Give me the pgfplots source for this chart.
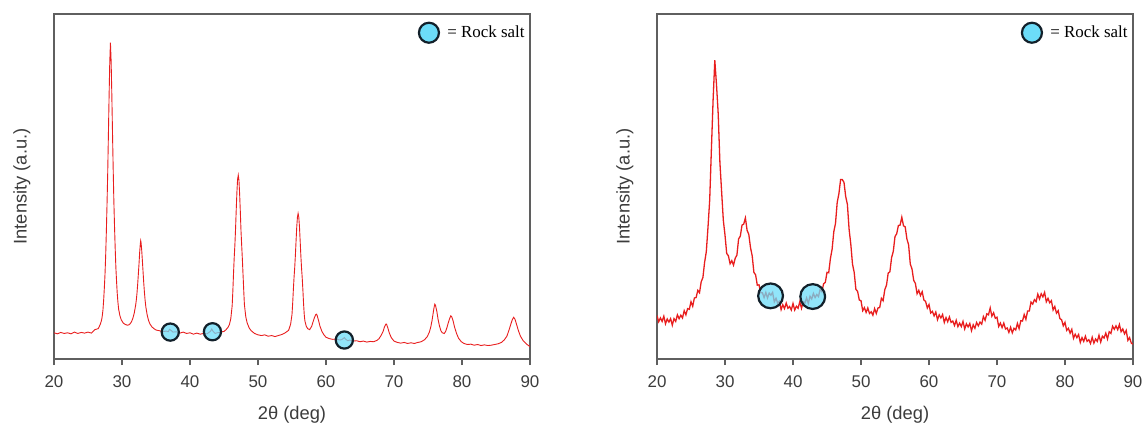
\documentclass[border=0pt]{standalone}
\usepackage{pgfplots}
\pgfplotsset{compat=1.18}
\usepackage{fontspec}
\setmainfont{Liberation Sans}
\newfontfamily\legendfont{Liberation Serif}

\definecolor{xrdred}{RGB}{232,30,30}
\definecolor{rsfill}{RGB}{108,220,248}
\definecolor{rsdraw}{RGB}{18,32,42}
\definecolor{axgray}{RGB}{95,95,95}
\definecolor{txtgray}{RGB}{60,60,60}

\pgfplotsset{
  xrd/.style={
    scale only axis, width=238bp, height=172.5bp,
    xmin=20, xmax=90, ymin=0, ymax=100,
    xtick={20,30,...,90}, ytick=\empty,
    tick align=outside, xtick pos=left,
    major tick length=3bp,
    axis line style={axgray, line width=0.6bp},
    every tick/.style={axgray, line width=0.6bp},
    /pgf/number format/assume math mode=true,
    ticklabel style={font=\fontsize{8.5}{10}\selectfont, text=txtgray},
    xticklabel style={yshift=-2bp},
    xlabel={2θ (deg)}, ylabel={Intensity (a.u.)},
    label style={font=\fontsize{9.2}{11}\selectfont, text=txtgray},
    xlabel style={at={(axis description cs:0.5,0)}, anchor=center, yshift=-28bp},
    ylabel style={at={(axis description cs:0,0.5)}, anchor=center, yshift=16bp},
    legend style={draw=none, fill=none, at={(axis description cs:1,1)},
      anchor=north east, xshift=2.5bp, yshift=-1.5bp,
      font=\legendfont\fontsize{8.5}{10}\selectfont},
    legend image code/.code={\draw[rsdraw, fill=rsfill, line width=1.1bp] (5bp,0) circle (5bp);
      \path (12bp,0);},
  },
  pattern line/.style={xrdred, line width=0.45bp, forget plot},
  rocksalt/.style={only marks, mark=*, mark options={draw=rsdraw, fill=rsfill, fill opacity=0.75, line width=1.1bp}},
}

\begin{document}
\begin{tikzpicture}
\useasboundingbox (0,0) rectangle (572bp,212bp);

% left: sharp pattern
\begin{axis}[xrd, at={(27bp,32.5bp)}, anchor=south west]
\addplot[pattern line] coordinates {
(20.0,7.6) (20.5,7.3) (21.0,7.7) (21.5,7.4) (22.0,7.6) (22.5,7.3) (23.0,7.8) (23.5,7.4)
(24.0,7.7) (24.5,7.5) (25.0,7.8) (25.5,7.5) (26.0,8.5) (26.5,8.8) (26.8,10.0) (27.0,11.3)
(27.1,12.5) (27.2,14.2) (27.3,17.0) (27.4,20.5) (27.5,24.5) (27.6,30.0) (27.7,37.0) (27.8,45.0)
(27.9,54.0) (28.0,65.0) (28.1,76.0) (28.2,86.0) (28.3,91.7) (28.4,86.5) (28.5,77.0) (28.6,66.0)
(28.7,55.5) (28.8,46.0) (28.9,38.5) (29.0,32.0) (29.1,26.5) (29.2,22.5) (29.3,19.0) (29.4,16.5)
(29.5,14.5) (29.7,12.5) (29.9,11.3) (30.2,10.4) (30.5,10.0) (30.8,9.8) (31.0,9.9) (31.2,10.2)
(31.4,10.8) (31.6,11.8) (31.8,13.3) (32.0,15.5) (32.1,17.0) (32.2,19.0) (32.3,21.5) (32.4,24.5)
(32.5,27.5) (32.6,31.0) (32.7,33.5) (32.75,34.3) (32.8,33.8) (32.9,31.5) (33.0,28.4) (33.1,25.2)
(33.2,22.0) (33.3,19.3) (33.4,17.0) (33.5,15.2) (33.7,12.8) (33.9,11.2) (34.1,10.2) (34.4,9.3)
(34.7,8.8) (35.0,8.4) (35.5,8.2) (36.0,7.9) (36.5,8.1) (36.8,7.9) (37.0,8.6) (37.2,8.3)
(37.5,7.8) (38.0,7.9) (38.5,7.5) (39.0,7.8) (39.5,7.4) (40.0,7.6) (40.5,7.2) (41.0,7.5)
(41.5,7.2) (42.0,7.4) (42.5,7.3) (43.0,8.0) (43.2,8.7) (43.4,8.0) (43.7,7.4) (44.0,7.6)
(44.5,7.8) (45.0,8.0) (45.3,8.5) (45.6,9.2) (45.8,10.0) (46.0,11.7) (46.2,15.4) (46.3,19.6)
(46.4,24.7) (46.5,29.3) (46.6,33.0) (46.7,37.7) (46.8,43.3) (46.9,48.4) (47.0,52.1) (47.1,53.3)
(47.2,51.8) (47.3,47.8) (47.4,42.8) (47.5,37.2) (47.6,33.0) (47.7,29.0) (47.8,24.5) (47.9,20.0)
(48.0,15.8) (48.2,12.3) (48.4,10.5) (48.7,9.0) (49.0,8.2) (49.5,7.4) (50.0,7.0) (50.5,6.8)
(51.0,7.0) (51.5,6.6) (52.0,6.8) (52.5,6.5) (53.0,6.8) (53.5,7.1) (54.0,7.6) (54.5,8.3)
(54.8,10.1) (55.0,12.9) (55.1,16.1) (55.2,20.1) (55.3,23.6) (55.4,26.5) (55.5,30.1) (55.6,34.3)
(55.7,38.3) (55.8,41.1) (55.9,42.2) (56.0,41.1) (56.1,38.3) (56.2,34.3) (56.3,30.1) (56.4,26.5)
(56.5,23.6) (56.6,20.1) (56.7,16.1) (56.8,12.9) (56.9,11.0) (57.1,9.5) (57.3,8.8) (57.6,8.5)
(57.9,9.5) (58.1,10.8) (58.3,12.0) (58.5,12.9) (58.6,13.0) (58.7,12.6) (58.9,11.2) (59.1,9.6)
(59.4,8.0) (59.7,7.0) (60.0,6.3) (60.5,5.9) (61.0,5.7) (61.5,5.8) (62.0,5.5) (62.3,5.6)
(62.5,5.9) (62.7,6.2) (62.9,5.7) (63.2,5.3) (63.5,5.5) (64.0,5.2) (64.5,5.3) (65.0,5.0)
(65.5,5.2) (66.0,4.9) (66.5,5.1) (67.0,5.0) (67.5,5.4) (67.8,5.9) (68.1,6.8) (68.4,8.0)
(68.6,9.3) (68.8,10.1) (68.9,10.1) (69.1,9.0) (69.3,7.6) (69.6,6.2) (70.0,5.2) (70.5,4.8)
(71.0,4.6) (71.5,4.8) (72.0,4.5) (72.5,4.7) (73.0,4.5) (73.5,4.8) (74.0,5.0) (74.5,5.6)
(74.9,6.5) (75.2,7.8) (75.4,9.2) (75.6,11.2) (75.8,13.8) (75.9,15.0) (76.0,15.9) (76.1,15.6)
(76.3,13.8) (76.5,11.3) (76.7,9.5) (76.9,8.2) (77.1,7.6) (77.4,7.4) (77.6,8.0) (77.8,9.2)
(78.0,10.6) (78.2,11.8) (78.35,12.5) (78.5,12.2) (78.7,11.0) (78.9,9.3) (79.2,7.4) (79.5,6.0)
(79.9,5.0) (80.3,4.5) (80.8,4.2) (81.3,4.3) (81.8,4.0) (82.3,4.2) (82.8,3.9) (83.3,4.1)
(83.8,3.9) (84.3,4.0) (84.8,4.2) (85.3,4.4) (85.8,4.8) (86.2,5.5) (86.6,6.6) (86.9,8.3)
(87.2,10.2) (87.4,11.4) (87.6,12.1) (87.8,11.5) (88.0,10.2) (88.3,8.2) (88.6,6.6) (89.0,5.3)
(89.5,4.3) (90.0,3.6)
};
\addplot[rocksalt, mark size=4.3bp] coordinates {(37.1,7.8) (43.3,7.9) (62.7,5.5)};
\legend{= Rock salt}
\end{axis}

% right: broad pattern
\begin{axis}[xrd, at={(328.5bp,32.5bp)}, anchor=south west]
\addplot[pattern line, line width=0.65bp] coordinates {
(20.00,12.6) (20.25,10.8) (20.50,11.9) (20.75,10.9) (21.00,12.4) (21.25,10.2) (21.50,11.6) (21.75,10.7)
(22.00,11.7) (22.25,9.8) (22.50,11.7) (22.75,10.9) (23.00,12.8) (23.25,11.7) (23.50,12.7) (23.75,11.9)
(24.00,14.0) (24.25,12.8) (24.50,14.6) (24.75,14.4) (25.00,16.6) (25.25,15.3) (25.50,17.7) (25.75,17.8)
(26.00,19.9) (26.25,19.2) (26.50,22.4) (26.75,23.6) (27.00,28.0) (27.25,31.1) (27.50,38.2) (27.75,46.1)
(28.00,60.8) (28.25,75.1) (28.50,86.6) (28.75,79.5) (29.00,71.1) (29.25,57.0) (29.50,48.6) (29.75,40.3)
(30.00,35.9) (30.25,30.6) (30.50,29.9) (30.75,27.6) (31.00,28.5) (31.25,27.2) (31.50,29.2) (31.75,30.1)
(32.00,34.8) (32.25,35.6) (32.50,38.8) (32.75,39.1) (33.00,40.9) (33.25,37.3) (33.50,36.1) (33.75,32.3)
(34.00,29.9) (34.25,25.1) (34.50,24.4) (34.75,21.4) (35.00,21.5) (35.25,19.2) (35.50,19.2) (35.75,17.8)
(36.00,19.3) (36.25,17.7) (36.50,19.1) (36.75,18.5) (37.00,19.3) (37.25,16.6) (37.50,17.6) (37.75,16.2)
(38.00,16.7) (38.25,14.3) (38.50,15.7) (38.75,14.6) (39.00,16.2) (39.25,14.7) (39.50,15.2) (39.75,14.2)
(40.00,16.1) (40.25,14.2) (40.50,15.3) (40.75,14.7) (41.00,16.6) (41.25,14.7) (41.50,16.6) (41.75,16.2)
(42.00,17.7) (42.25,16.1) (42.50,18.2) (42.75,17.4) (43.00,19.0) (43.25,17.8) (43.50,18.7) (43.75,18.1)
(44.00,20.3) (44.25,19.5) (44.50,21.8) (44.75,22.2) (45.00,25.1) (45.25,25.0) (45.50,29.1) (45.75,31.8)
(46.00,36.9) (46.25,39.3) (46.50,45.4) (46.75,47.9) (47.00,52.0) (47.25,52.0) (47.50,51.2) (47.75,47.1)
(48.00,44.8) (48.25,37.6) (48.50,33.3) (48.75,27.5) (49.00,25.1) (49.25,20.2) (49.50,19.6) (49.75,17.1)
(50.00,16.9) (50.25,14.0) (50.50,14.9) (50.75,13.5) (51.00,14.8) (51.25,13.2) (51.50,13.7) (51.75,12.7)
(52.00,14.6) (52.25,13.2) (52.50,14.8) (52.75,14.9) (53.00,17.6) (53.25,16.9) (53.50,20.1) (53.75,21.4)
(54.00,24.9) (54.25,25.3) (54.50,29.4) (54.75,31.2) (55.00,35.5) (55.25,36.3) (55.50,38.7) (55.75,38.8)
(56.00,41.1) (56.25,38.6) (56.50,38.3) (56.75,34.8) (57.00,33.1) (57.25,27.5) (57.50,26.1) (57.75,22.8)
(58.00,21.9) (58.25,18.9) (58.50,19.9) (58.75,18.4) (59.00,19.5) (59.25,17.1) (59.50,16.7) (59.75,14.8)
(60.00,15.8) (60.25,13.3) (60.50,13.8) (60.75,12.5) (61.00,13.6) (61.25,11.4) (61.50,12.8) (61.75,11.9)
(62.00,12.9) (62.25,10.6) (62.50,12.0) (62.75,10.8) (63.00,12.2) (63.25,10.6) (63.50,11.0) (63.75,9.7)
(64.00,11.2) (64.25,9.4) (64.50,10.4) (64.75,9.4) (65.00,10.9) (65.25,8.7) (65.50,10.2) (65.75,9.3)
(66.00,10.3) (66.25,8.2) (66.50,9.9) (66.75,8.9) (67.00,10.6) (67.25,9.6) (67.50,10.7) (67.75,10.1)
(68.00,12.3) (68.25,11.2) (68.50,13.1) (68.75,12.8) (69.00,14.8) (69.25,12.4) (69.50,13.4) (69.75,11.8)
(70.00,12.1) (70.25,9.4) (70.50,10.4) (70.75,9.1) (71.00,10.4) (71.25,8.7) (71.50,9.0) (71.75,7.7)
(72.00,9.2) (72.25,7.6) (72.50,8.9) (72.75,8.4) (73.00,10.3) (73.25,8.8) (73.50,11.1) (73.75,11.0)
(74.00,12.9) (74.25,11.5) (74.50,13.9) (74.75,13.9) (75.00,16.5) (75.25,15.9) (75.50,17.2) (75.75,16.6)
(76.00,18.8) (76.25,17.4) (76.50,18.9) (76.75,18.0) (77.00,19.3) (77.25,16.6) (77.50,17.6) (77.75,16.3)
(78.00,16.9) (78.25,14.2) (78.50,15.2) (78.75,13.3) (79.00,14.0) (79.25,11.7) (79.50,11.4) (79.75,9.6)
(80.00,10.6) (80.25,8.3) (80.50,8.9) (80.75,7.5) (81.00,8.6) (81.25,6.0) (81.50,7.2) (81.75,6.2)
(82.00,7.1) (82.25,4.8) (82.50,6.2) (82.75,5.1) (83.00,6.6) (83.25,5.1) (83.50,5.6) (83.75,4.5)
(84.00,6.3) (84.25,4.6) (84.50,5.8) (84.75,5.1) (85.00,6.9) (85.25,4.9) (85.50,6.6) (85.75,6.1)
(86.00,7.5) (86.25,5.8) (86.50,7.9) (86.75,7.4) (87.00,9.5) (87.25,8.6) (87.50,9.6) (87.75,8.5)
(88.00,10.0) (88.25,7.9) (88.50,8.7) (88.75,7.3) (89.00,8.3) (89.25,5.4) (89.50,6.2) (89.75,4.6)
(90.00,4.3)
};
\addplot[rocksalt, mark size=6.2bp] coordinates {(36.7,18.3) (42.9,18.1)};
\legend{= Rock salt}
\end{axis}
\end{tikzpicture}
\end{document}
